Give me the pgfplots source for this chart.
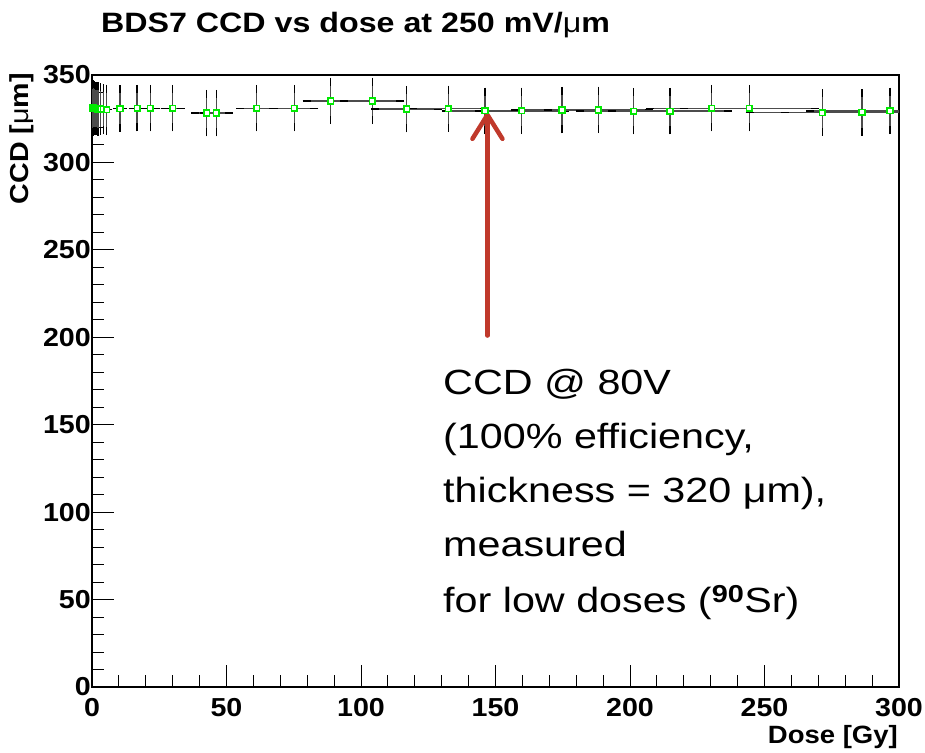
\documentclass[border=0pt]{standalone}
\usepackage{fontspec}
\setmainfont{Liberation Sans}
\newfontfamily\rootfont{Liberation Sans}[FakeStretch=1.1]
\newfontfamily\titlefont{Liberation Sans}[FakeStretch=1.15]
\newfontfamily\annfont{Liberation Sans}[FakeStretch=1.18]
\usepackage{pgfplots}
\usepackage{pgfplotstable}
\pgfplotsset{compat=1.18}
\usetikzlibrary{arrows.meta}
\definecolor{arrowred}{RGB}{192,57,43}
\definecolor{ptgreen}{RGB}{0,235,0}
\pgfplotstableread{
x y ex ey
0.1 331.5 0.01 13.5
0.3 331.0 0.03 13.5
0.6 331.2 0.06 13.5
1.0 331.0 0.1 13
1.5 330.8 0.15 13
2.0 330.5 0.2 13
2.5 330.5 0.25 13
3.2 330.5 0.3 12.5
4.2 330.3 0.4 12
5.5 330.2 0.55 12
10.4 330.8 1.0 11
16.8 331.0 1.7 11
21.7 331.0 2.2 11
30.0 331.0 3.0 11
42.6 328.2 4.2 11
46.2 328.2 4.6 11
61.2 331.0 6.1 11
75.2 331.0 7.5 11
88.7 335.2 8.9 11
104.2 335.2 10.4 11
117.0 330.5 11.7 11
132.5 330.7 13.2 11
146.1 329.5 14.6 11
159.7 329.5 16.0 11
174.7 329.9 17.5 11
188.2 330.0 18.8 11
201.4 329.3 20.0 11
214.9 329.3 21.5 11
230.4 331.0 23.0 11
244.4 331.0 24.4 11
271.5 328.5 27.0 11
286.2 328.6 28.6 11
296.7 329.5 29.7 11
}\ccddata
\begin{document}
\begin{tikzpicture}[x=1pt,y=1pt]
\useasboundingbox (0,0) rectangle (925,752);
\begin{axis}[
  at={(92pt,65pt)}, anchor=south west,
  width=807pt, height=612pt, scale only axis,
  xmin=0, xmax=300, ymin=0, ymax=350,
  xtick={0,50,...,300}, ytick={0,50,...,350},
  minor x tick num=4, minor y tick num=4,
  tick align=inside, xtick pos=bottom, ytick pos=left,
  major tick length=22pt, minor tick length=12pt,
  axis line style={black, line width=1.2pt},
  every tick/.style={black, line width=1pt},
  /pgf/number format/assume math mode=true,
  ticklabel style={font=\rootfont\bfseries\fontsize{26}{26}\selectfont},
  yticklabel style={inner sep=1pt},
  xticklabel style={inner sep=2pt, yshift=-9pt},
]
% error bars
\addplot[
  only marks, mark=none,
  error bars/.cd, x dir=both, x explicit, y dir=both, y explicit,
  error bar style={black!70, line width=1.4pt},
  error mark options={black, mark size=4pt, line width=1.4pt},
] table[x=x, y=y, x error=ex, y error=ey] {\ccddata};
% markers on top
\addplot[
  only marks, mark=square*, mark size=2.8pt,
  mark options={draw=ptgreen, fill=white, line width=1.7pt},
] table[x=x, y=y] {\ccddata};
\draw[arrowred, line width=4.5pt, line cap=round,
  -{Straight Barb[round, length=24pt, width=30pt, line width=4.5pt]}]
  (axis cs:147,201) -- (axis cs:147,328.5);
\end{axis}
\node[anchor=base west, inner sep=0pt, font=\titlefont\bfseries\fontsize{28}{28}\selectfont]
  at (101,719) {BDS7 CCD vs dose at 250 mV/{\mdseries μ}m};
\node[anchor=base east, inner sep=0pt, rotate=90, font=\rootfont\bfseries\fontsize{26}{26}\selectfont]
  at (28,679) {CCD [{\mdseries μ}m]};
\node[anchor=base east, inner sep=0pt, font=\rootfont\bfseries\fontsize{25}{25}\selectfont]
  at (898,9) {Dose [Gy]};
\begin{scope}[every node/.style={anchor=base west, inner sep=0pt, font=\annfont\fontsize{35}{35}\selectfont}]
\node at (443,357) {CCD @ 80V};
\node at (443,303) {(100\% efficiency,};
\node at (443,249) {thickness = 320 μm),};
\node at (443,195) {measured};
\node at (443,140) {for low doses (\textsuperscript{\bfseries 90}Sr)};
\end{scope}
\end{tikzpicture}
\end{document}
